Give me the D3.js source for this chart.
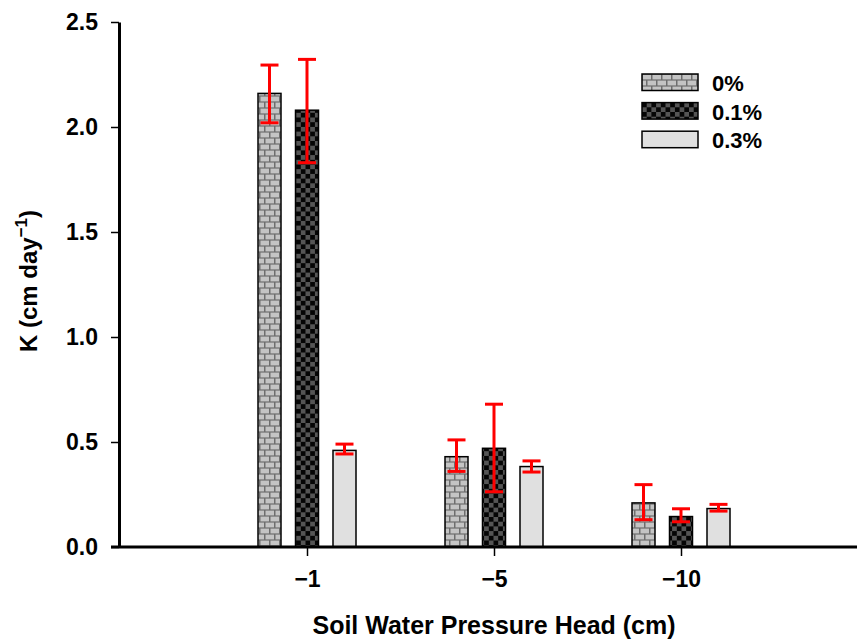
<!DOCTYPE html>
<html>
<head>
<meta charset="utf-8">
<script src="https://cdn.jsdelivr.net/npm/d3@7"></script>
<style>
  body { margin: 0; background: #fff; }
  text { font-family: Arial, "Liberation Sans", sans-serif; font-weight: bold; }
</style>
</head>
<body>
<div class="canvas"></div>
<script>
// data
const heads = ['\u22121', '\u22125', '\u221210'];
const series = ['0%', '0.1%', '0.3%'];
const k0 = [2.16, 0.43, 0.21];
const k01 = [2.08, 0.47, 0.145];
const k03 = [0.46, 0.383, 0.183];
const err0 = [[2.02, 2.295], [0.36, 0.51], [0.13, 0.297]];
const err01 = [[1.83, 2.322], [0.263, 0.68], [0.12, 0.182]];
const err03 = [[0.443, 0.49], [0.357, 0.41], [0.171, 0.203]];
const yTicks = [0, 0.5, 1.0, 1.5, 2.0, 2.5];

const dims = { width: 857, height: 641 };
const plot = { left: 119, top: 22, bottom: 547 };

const svg = d3.select('.canvas')
    .append('svg')
    .attr('width', dims.width)
    .attr('height', dims.height);

// patterns for the three treatments
const defs = svg.append('defs');

const brick = defs.append('pattern')
    .attr('id', 'brick')
    .attr('patternUnits', 'userSpaceOnUse')
    .attr('width', 10).attr('height', 12);
brick.append('rect').attr('width', 10).attr('height', 12).attr('fill', '#6e6e6e');
[[0, 0, 8.5, 4.8], [-5, 6, 8.5, 4.8], [5, 6, 8.5, 4.8]].forEach(b => {
    brick.append('rect')
        .attr('x', b[0] + 0.5).attr('y', b[1] + 0.6)
        .attr('width', b[2]).attr('height', b[3])
        .attr('fill', '#c4c4c4');
});

const check = defs.append('pattern')
    .attr('id', 'check')
    .attr('patternUnits', 'userSpaceOnUse')
    .attr('width', 9.4).attr('height', 9.4);
check.append('rect').attr('width', 9.4).attr('height', 9.4).attr('fill', '#555');
check.append('rect').attr('width', 4.7).attr('height', 4.7).attr('fill', '#050505');
check.append('rect').attr('x', 4.7).attr('y', 4.7).attr('width', 4.7).attr('height', 4.7).attr('fill', '#050505');

const fills = ['url(#brick)', 'url(#check)', '#e0e0e0'];

// scales
const x = d3.scaleLinear().domain([0, 4]).range([plot.left + 1, plot.left + 1 + 4 * 187]);
const y = d3.scaleLinear().domain([0, 2.5]).range([plot.bottom, plot.top]);
const offset = d3.scalePoint().domain(series).range([-37.5, 37.5]);
const barW = 23;

// rows for drawing
const rows = [];
heads.forEach((h, i) => {
    rows.push({ head: h, i: i, s: series[0], v: k0[i], e: err0[i] });
    rows.push({ head: h, i: i, s: series[1], v: k01[i], e: err01[i] });
    rows.push({ head: h, i: i, s: series[2], v: k03[i], e: err03[i] });
});

const graph = svg.append('g');

// bars
graph.selectAll('rect.bar')
    .data(rows)
    .enter()
    .append('rect')
    .attr('class', 'bar')
    .attr('x', d => x(d.i + 1) + offset(d.s) - barW / 2)
    .attr('y', d => y(d.v))
    .attr('width', barW)
    .attr('height', d => y(0) - y(d.v))
    .attr('fill', d => fills[series.indexOf(d.s)])
    .attr('stroke', '#000')
    .attr('stroke-width', 1.5);

// error bars
const errG = graph.selectAll('g.err')
    .data(rows)
    .enter()
    .append('g')
    .attr('class', 'err')
    .attr('transform', d => `translate(${x(d.i + 1) + offset(d.s)},0)`);

errG.append('line')
    .attr('y1', d => y(d.e[0])).attr('y2', d => y(d.e[1]))
    .attr('stroke', '#ff0000').attr('stroke-width', 3);
errG.selectAll('line.cap')
    .data(d => d.e)
    .enter()
    .append('line')
    .attr('class', 'cap')
    .attr('x1', -9).attr('x2', 9)
    .attr('y1', d => y(d)).attr('y2', d => y(d))
    .attr('stroke', '#ff0000').attr('stroke-width', 3);

// y axis
const yAxis = d3.axisLeft(y)
    .tickValues(yTicks)
    .tickFormat(d3.format('.1f'))
    .tickSizeInner(8)
    .tickSizeOuter(0)
    .tickPadding(13);

const yG = svg.append('g')
    .attr('transform', `translate(${plot.left},0)`)
    .call(yAxis);
yG.select('.domain').attr('stroke-width', 3);
yG.selectAll('.tick line').attr('stroke-width', 1.5);
yG.selectAll('.tick text')
    .attr('font-size', 23)
    .attr('fill', '#000')
    .style('font-family', 'Arial, "Liberation Sans", sans-serif')
    .style('font-weight', 'bold');

// x axis
const xAxis = d3.axisBottom(x)
    .tickValues([1, 2, 3])
    .tickFormat((d, i) => heads[i])
    .tickSizeInner(9)
    .tickSizeOuter(0)
    .tickPadding(15);

const xG = svg.append('g')
    .attr('transform', `translate(0,${plot.bottom})`)
    .call(xAxis);
xG.select('.domain').remove();
xG.append('line')
    .attr('x1', plot.left - 8).attr('x2', dims.width)
    .attr('stroke', '#000').attr('stroke-width', 3);
xG.selectAll('.tick line').attr('stroke-width', 1.5);
xG.selectAll('.tick text')
    .attr('font-size', 23)
    .attr('fill', '#000')
    .style('font-family', 'Arial, "Liberation Sans", sans-serif')
    .style('font-weight', 'bold');

// axis titles
svg.append('text')
    .attr('x', x(2))
    .attr('y', 634)
    .attr('text-anchor', 'middle')
    .attr('font-size', 25)
    .text('Soil Water Pressure Head (cm)');

const yTitle = svg.append('text')
    .attr('transform', 'translate(37,281) rotate(-90)')
    .attr('text-anchor', 'middle')
    .attr('font-size', 24);
yTitle.append('tspan').text('K (cm day');
yTitle.append('tspan').attr('dy', -10).attr('font-size', 17).text('\u22121');
yTitle.append('tspan').attr('dy', 10).text(')');

// legend
const legend = svg.append('g').attr('transform', 'translate(642,74)');
const leg = legend.selectAll('g')
    .data(series)
    .enter()
    .append('g')
    .attr('transform', (d, i) => `translate(0,${i * 28.6})`);
leg.append('rect')
    .attr('width', 56).attr('height', 16.5)
    .attr('fill', (d, i) => fills[i])
    .attr('stroke', '#000').attr('stroke-width', 1.5);
leg.append('text')
    .attr('x', 70).attr('y', 17)
    .attr('font-size', 22)
    .text(d => d);
</script>
</body>
</html>
